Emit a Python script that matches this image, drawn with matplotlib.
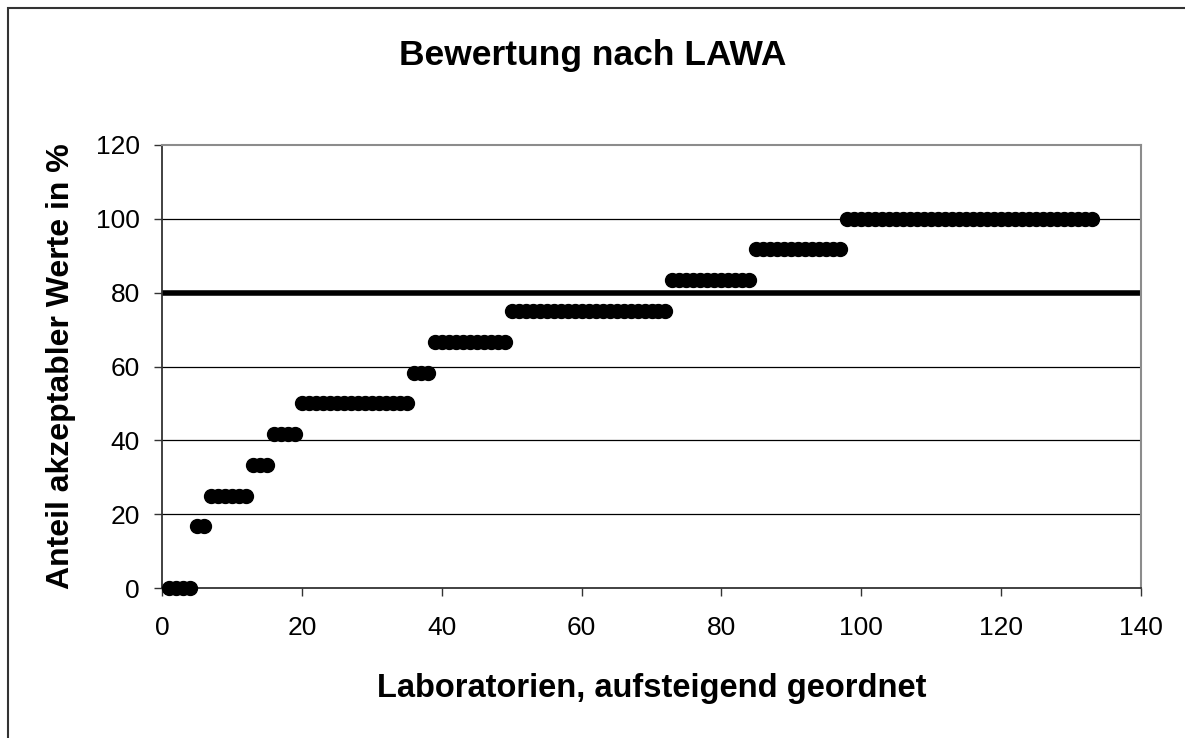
import matplotlib.pyplot as plt
from matplotlib.patches import Rectangle

# Anteil akzeptabler Werte je Stufe und Anzahl Labore pro Stufe
levels = [0, 16.7, 25, 33.3, 41.7, 50, 58.3, 66.7, 75, 83.3, 91.7, 100]
counts = [4, 2, 6, 3, 4, 16, 3, 11, 23, 12, 13, 36]
limit = 80

values = []
for lv, n in zip(levels, counts):
    values += [lv] * n
labs = list(range(1, len(values) + 1))

plt.rcParams['font.family'] = ['Liberation Sans', 'DejaVu Sans']

fig = plt.figure(figsize=(11.85, 7.38), dpi=100)
ax = fig.add_axes([162 / 1185, 1 - 588 / 738, (1141 - 162) / 1185, (588 - 145) / 738])

for y in [20, 40, 60, 80, 100]:
    ax.axhline(y, color='black', lw=0.9, zorder=1)
ax.plot([0, 140], [limit, limit], color='black', lw=4, solid_capstyle='butt', zorder=2)
ax.plot(labs, values, 'o', color='black', ms=10, zorder=3, clip_on=False)

ax.set_xlim(0, 140)
ax.set_ylim(0, 120)
ax.set_xticks(range(0, 141, 20))
ax.set_yticks(range(0, 121, 20))
ax.tick_params(direction='out', length=6, width=1, labelsize=19, color='#333333')
ax.tick_params(axis='x', pad=14)
ax.tick_params(axis='y', pad=10)

for s in ['top', 'right']:
    ax.spines[s].set_color('#8c8c8c')
    ax.spines[s].set_linewidth(1.5)
for s in ['left', 'bottom']:
    ax.spines[s].set_color('#333333')
    ax.spines[s].set_linewidth(1.3)

ax.set_xlabel('Laboratorien, aufsteigend geordnet', fontsize=23.5, fontweight='bold', labelpad=24)
ax.set_ylabel('Anteil akzeptabler Werte in %', fontsize=23, fontweight='bold', labelpad=14)
fig.text(0.5, 1 - 55 / 738, 'Bewertung nach LAWA', ha='center', va='center',
         fontsize=25.5, fontweight='bold')

# Rahmen des Diagrammbereichs (rechts und unten abgeschnitten)
fig.add_artist(Rectangle((7.5 / 1185, -0.1), 1.2, 1.1 - 7.5 / 738, transform=fig.transFigure,
                         fill=False, edgecolor='#333333', lw=1.5))

fig.savefig('out.png', dpi=100)
